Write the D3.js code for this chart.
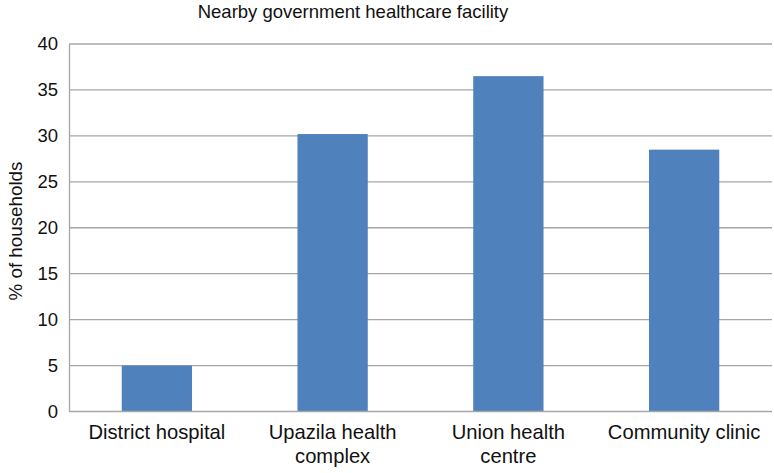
<!DOCTYPE html>
<html><head><meta charset="utf-8">
<script src="https://cdn.jsdelivr.net/npm/d3@7"></script>
<style>body{margin:0;background:#fff;} text{font-family:"Liberation Sans",Arial,sans-serif;fill:#111;}</style>
</head><body>
<svg id="c" width="774" height="473"></svg>
<script>
const categories = [["District hospital"], ["Upazila health", "complex"], ["Union health", "centre"], ["Community clinic"]];
const values = [5, 30.2, 36.5, 28.5];
const yTicks = [0, 5, 10, 15, 20, 25, 30, 35, 40];
const title = "Nearby government healthcare facility";
const yLabel = "% of households";

const svg = d3.select("#c");
const L = 69, R = 772, T = 44, B = 411.5;
const x = d3.scaleBand().domain(d3.range(categories.length)).range([L, R]).paddingInner(0.6).paddingOuter(0.3);
const y = d3.scaleLinear().domain([0, 40]).range([B, T]);

svg.append("g").selectAll("line").data(yTicks.filter(d => d > 0)).join("line")
  .attr("x1", L).attr("x2", R).attr("y1", d => y(d)).attr("y2", d => y(d))
  .attr("stroke", "#a6a6a6").attr("stroke-width", 1.3);

svg.append("g").selectAll("rect").data(values).join("rect")
  .attr("x", (d, i) => x(i)).attr("width", x.bandwidth())
  .attr("y", d => y(d)).attr("height", d => y(0) - y(d))
  .attr("fill", "#4f81bd");

const ya = svg.append("g").attr("transform", `translate(${L},0)`)
  .call(d3.axisLeft(y).tickValues(yTicks).tickSize(0).tickPadding(11));
ya.select(".domain").attr("stroke", "#a6a6a6").attr("stroke-width", 1.3);
ya.selectAll("text").attr("font-size", 18.5).attr("fill", "#111").attr("font-family", "Liberation Sans, Arial, sans-serif");

svg.append("line").attr("x1", L).attr("x2", R).attr("y1", B).attr("y2", B)
  .attr("stroke", "#a6a6a6").attr("stroke-width", 1.3);

const xl = svg.append("g").selectAll("text").data(categories).join("text")
  .attr("text-anchor", "middle").attr("font-size", 20.2)
  .attr("x", (d, i) => x(i) + x.bandwidth() / 2).attr("y", 439);
xl.selectAll("tspan").data(d => d).join("tspan")
  .attr("x", function() { return this.parentNode.getAttribute("x"); })
  .attr("dy", (d, i) => i === 0 ? 0 : 23.5).text(d => d);

svg.append("text").attr("x", 353).attr("y", 18).attr("text-anchor", "middle")
  .attr("font-size", 18.5).text(title);

svg.append("text").attr("transform", `translate(22,231) rotate(-90)`)
  .attr("text-anchor", "middle").attr("font-size", 18.8).text(yLabel);
</script>
</body></html>
